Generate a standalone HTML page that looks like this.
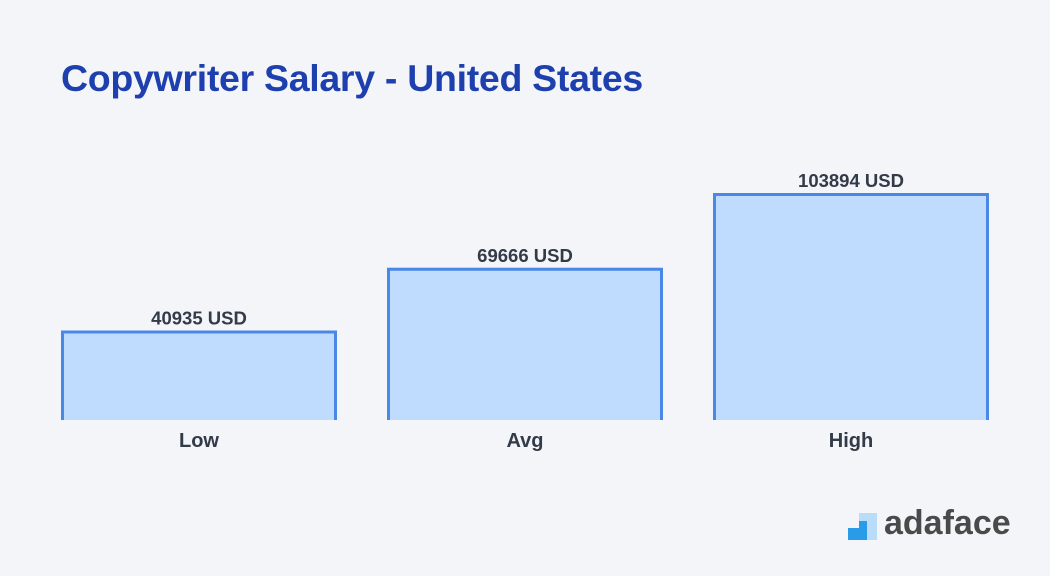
<!DOCTYPE html>
<html><head><meta charset="utf-8"><style>
body{margin:0;background:#f3f5f8;font-family:"Liberation Sans",sans-serif;}
#wrap{position:relative;width:1050px;height:576px;overflow:hidden;background:#f3f5f8;}
h1{position:absolute;left:61px;top:57px;margin:0;font-size:37.5px;font-weight:bold;color:#1e3fae;letter-spacing:-0.3px;}
</style></head><body>
<div id="wrap">
<h1>Copywriter Salary - United States</h1>
<svg id="chart" width="1050" height="576" style="position:absolute;left:0;top:0"></svg>
<div style="position:absolute;left:848px;top:508px;height:40px;">
<svg width="30" height="32" style="position:absolute;left:0;top:5px"><rect x="11" y="0" width="18" height="27" fill="#b9ddf8"/><rect x="0" y="15" width="11" height="12" fill="#2a9be6"/><rect x="11" y="8" width="8" height="19" fill="#2a9be6"/></svg>
<span style="position:absolute;left:36px;top:-4px;font-size:34px;font-weight:bold;color:#4a4a4a;letter-spacing:0px">adaface</span>
</div>
</div>
<script>
const categories=["Low","Avg","High"];
const values=[40935,69666,103894];
const labels=["40935 USD","69666 USD","103894 USD"];
const NS="http://www.w3.org/2000/svg";
const svg=document.getElementById('chart');
const base=420, scale=227/103894;
const x=i=>61+i*326, bw=276;
const y=v=>base-v*scale;
categories.forEach((c,i)=>{
 const top=y(values[i]);
 const r=document.createElementNS(NS,'rect');
 
 
 r.setAttribute('x',x(i));r.setAttribute('y',top);r.setAttribute('width',bw);r.setAttribute('height',base-top);
 r.setAttribute('fill','#bfdbfd');svg.appendChild(r);
 const p=document.createElementNS(NS,'path');
 
 
 p.setAttribute('d',`M${x(i)+1.5},${base} V${top+1.5} H${x(i)+bw-1.5} V${base}`);
 p.setAttribute('fill','none');p.setAttribute('stroke','#4a88e8');p.setAttribute('stroke-width','3');svg.appendChild(p);
 const t=document.createElementNS(NS,'text');
 
 
 t.setAttribute('x',x(i)+bw/2);t.setAttribute('y',top-6);t.setAttribute('text-anchor','middle');
 t.setAttribute('font-size','18.5');t.setAttribute('font-weight','bold');t.setAttribute('fill','#333a48');
 t.setAttribute('font-family','Liberation Sans, sans-serif');
 t.textContent=labels[i];svg.appendChild(t);
 const l=document.createElementNS(NS,'text');
 
 
 l.setAttribute('x',x(i)+bw/2);l.setAttribute('y',447);l.setAttribute('text-anchor','middle');
 l.setAttribute('font-size','20');l.setAttribute('font-weight','bold');l.setAttribute('fill','#333a48');
 l.setAttribute('font-family','Liberation Sans, sans-serif');
 l.textContent=c;svg.appendChild(l);
});
</script>
</body></html>
